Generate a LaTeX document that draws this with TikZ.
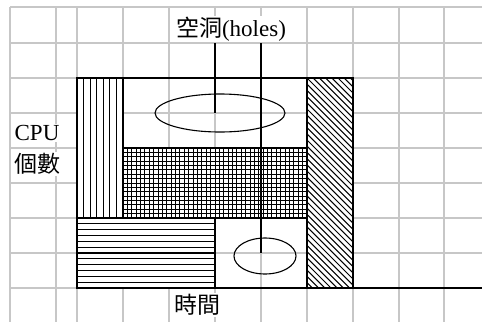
\documentclass[tikz,border=0pt]{standalone}
\usepackage{fontspec}
\setmainfont{Liberation Serif}
\newfontfamily\cjk{Noto Sans CJK TC}
\usetikzlibrary{shapes.geometric}
\begin{document}
\begin{tikzpicture}[x=1pt,y=-1pt,
  gridline/.style={draw=black!22,line width=1.3pt},
  outline/.style={draw=black,line width=1.5pt},
  hatchline/.style={draw=black,line width=1.1pt},
  lbl/.style={font=\fontsize{23}{25}\selectfont,inner sep=1pt,fill=white},
  hole/.style={draw=black,line width=1.1pt,ellipse,inner sep=0pt},
  leader/.style={draw=black,line width=1.2pt}]
\useasboundingbox (0,0) rectangle (482,322);
\fill[white] (0,0) rectangle (482,322);
% background grid
\foreach \x in {10,56,77,123,169,215,261,307,353,399,444}
  \draw[gridline] (\x,7) -- (\x,322);
\foreach \y in {7,43,78,113,148,183,218,253,288}
  \draw[gridline] (10,\y) -- (482,\y);
% vertical stripes
\fill[white] (77,78) rectangle (123,218);
\foreach \k in {0,...,7}
  \draw[hatchline] ({77+46*\k/7},78) -- ({77+46*\k/7},218);
% horizontal stripes
\fill[white] (77,218) rectangle (215,288);
\foreach \k in {0,...,12}
  \draw[hatchline] (77,{218+70*\k/12}) -- (215,{218+70*\k/12});
% cross hatch
\fill[white] (123,148) rectangle (307,218);
\foreach \k in {0,...,42}
  \draw[hatchline,line width=1pt] ({123+184*\k/42},148) -- ({123+184*\k/42},218);
\foreach \k in {0,...,16}
  \draw[hatchline,line width=1pt] (123,{148+70*\k/16}) -- (307,{148+70*\k/16});
% diagonal hatch
\fill[white] (307,78) rectangle (353,288);
\begin{scope}
  \clip (307,78) rectangle (353,288);
  \foreach \k in {-36,...,8}
    \draw[hatchline,line width=1pt] ({307+6.2*\k},78) -- ({307+6.2*\k+210},288);
\end{scope}
% outlines
\draw[outline] (77,78) rectangle (353,288);
\draw[outline] (123,78) -- (123,218);
\draw[outline] (123,148) -- (307,148);
\draw[outline] (77,218) -- (307,218);
\draw[outline] (215,218) -- (215,288);
\draw[outline] (307,78) -- (307,288);
\draw[outline] (353,288) -- (482,288);
% holes
\node[hole,minimum width=130pt,minimum height=38pt] (hole1) at (220,113) {};
\node[hole,minimum width=62pt,minimum height=36pt] (hole2) at (265,256) {};
\coordinate (a1) at (215,43);
\coordinate (a2) at (215,113);
\coordinate (b1) at (261,43);
\coordinate (b2) at (261,253);
\draw[leader] (a1) -- (a2);
\draw[leader] (b1) -- (b2);
% labels
\node[lbl] (holes) at (231,29) {{\cjk 空洞}(holes)};
\node[lbl] (cpu) at (37,133) {CPU};
\node[lbl] (count) at (37,164) {\cjk 個數};
\node[lbl] (time) at (197,305) {\cjk 時間};
\end{tikzpicture}
\end{document}
